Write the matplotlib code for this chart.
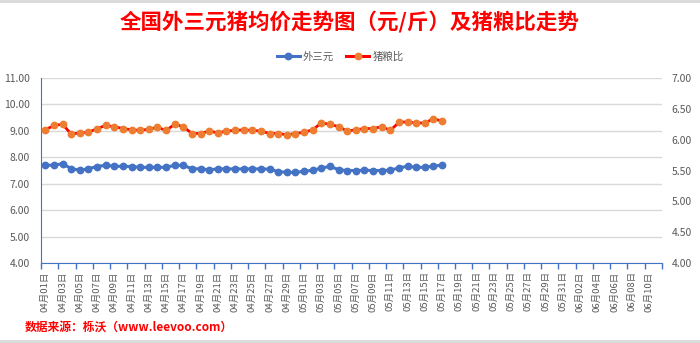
import numpy as np
import pandas as pd
import matplotlib
matplotlib.use("Agg")
import matplotlib.pyplot as plt
from matplotlib.lines import Line2D

plt.rcParams['font.family'] = ['Noto Sans CJK SC', 'DejaVu Sans']

# 日期：04月01日 ~ 06月11日
dates = pd.date_range("2021-04-01", "2021-06-11")
date_labels = [d.strftime("%m月%d日") for d in dates]

# 外三元均价（元/斤）
price = [7.70, 7.70, 7.76, 7.57, 7.51, 7.57, 7.65, 7.70, 7.66, 7.66,
         7.65, 7.62, 7.62, 7.62, 7.62, 7.70, 7.69, 7.57, 7.56, 7.53,
         7.56, 7.56, 7.56, 7.56, 7.56, 7.56, 7.55, 7.46, 7.43, 7.43,
         7.47, 7.51, 7.59, 7.66, 7.53, 7.50, 7.50, 7.51, 7.50, 7.50,
         7.51, 7.60, 7.66, 7.62, 7.62, 7.67, 7.70]

# 猪粮比
ratio = [6.16, 6.23, 6.25, 6.09, 6.11, 6.12, 6.18, 6.23, 6.21, 6.18,
         6.16, 6.15, 6.17, 6.20, 6.15, 6.25, 6.21, 6.10, 6.10, 6.14,
         6.11, 6.14, 6.15, 6.16, 6.15, 6.14, 6.10, 6.10, 6.08, 6.10,
         6.12, 6.16, 6.27, 6.25, 6.21, 6.14, 6.16, 6.18, 6.18, 6.21,
         6.15, 6.28, 6.29, 6.27, 6.27, 6.34, 6.30]

blue = "#4472C4"
orange = "#ED7D31"
gray = "#595959"

fig = plt.figure(figsize=(7, 3.43), dpi=100)
ax = fig.add_axes([0.0586, 0.2332, 0.8871, 0.5394])
ax2 = ax.twinx()

x = np.arange(len(dates))
ax.plot(x[:len(price)], price, color=blue, lw=2.2, marker="o", ms=4.6,
        mfc=blue, mec=blue, zorder=3)
ax2.plot(x[:len(ratio)], ratio, color="#FF0000", lw=2.0, marker="o", ms=4.6,
         mfc=orange, mec=orange, zorder=3)

ax.set_xlim(-0.5, len(dates) - 0.5)
ax.set_ylim(4, 11)
ax2.set_ylim(4, 7)
ax.set_yticks(np.arange(4, 11.01, 1))
ax.set_yticklabels([f"{v:.2f}" for v in np.arange(4, 11.01, 1)])
ax2.set_yticks(np.arange(4, 7.01, 0.5))
ax2.set_yticklabels([f"{v:.2f}" for v in np.arange(4, 7.01, 0.5)])

ax.set_xticks(x[::2])
ax.set_xticklabels(date_labels[::2], rotation=90, fontsize=6.8, color=gray)
ax.set_xticks(np.arange(-0.5, len(dates), 2), minor=True)
ax.tick_params(axis="x", which="major", length=0, pad=6)
ax.tick_params(axis="x", which="minor", length=4, color=blue, width=1)
ax.tick_params(axis="y", length=0, labelsize=7.5, labelcolor=gray, pad=8)
ax2.tick_params(axis="y", length=0, labelsize=7.5, labelcolor=gray, pad=7)

ax.grid(axis="y", color="#D9D9D9", lw=1)
ax.set_axisbelow(True)
for s in ["top", "right"]:
    ax.spines[s].set_visible(False)
for s in ["top", "right", "left", "bottom"]:
    ax2.spines[s].set_visible(False)
ax.spines["left"].set_color(blue)
ax.spines["bottom"].set_color(blue)

fig.text(0.5, 1 - 22 / 343, "全国外三元猪均价走势图（元/斤）及猪粮比走势",
         ha="center", va="center", color="#FF0000", fontsize=15.5, fontweight="bold")

handles = [
    Line2D([], [], color=blue, lw=2.2, marker="o", ms=4.6, mfc=blue, mec=blue),
    Line2D([], [], color="#FF0000", lw=2.2, marker="o", ms=4.6, mfc=orange, mec=orange),
]
fig.legend(handles, ["外三元", "猪粮比"], loc="center", bbox_to_anchor=(340 / 700, 1 - 57 / 343),
           ncol=2, frameon=False, fontsize=7.5, labelcolor=gray, handlelength=2.2,
           handletextpad=0.3, columnspacing=1.2)

fig.text(25 / 700, 1 - 327 / 343, "数据来源：栎沃（www.leevoo.com）",
         ha="left", va="center", color="#FF0000", fontsize=8.5, fontweight="bold")

# 外框线
fig.add_artist(Line2D([0, 1], [0.998, 0.998], transform=fig.transFigure, color="#D9D9D9", lw=2))
fig.add_artist(Line2D([0, 1], [1 - 341 / 343, 1 - 341 / 343], transform=fig.transFigure,
                      color="#D9D9D9", lw=2))

fig.savefig("out.png", dpi=100)
